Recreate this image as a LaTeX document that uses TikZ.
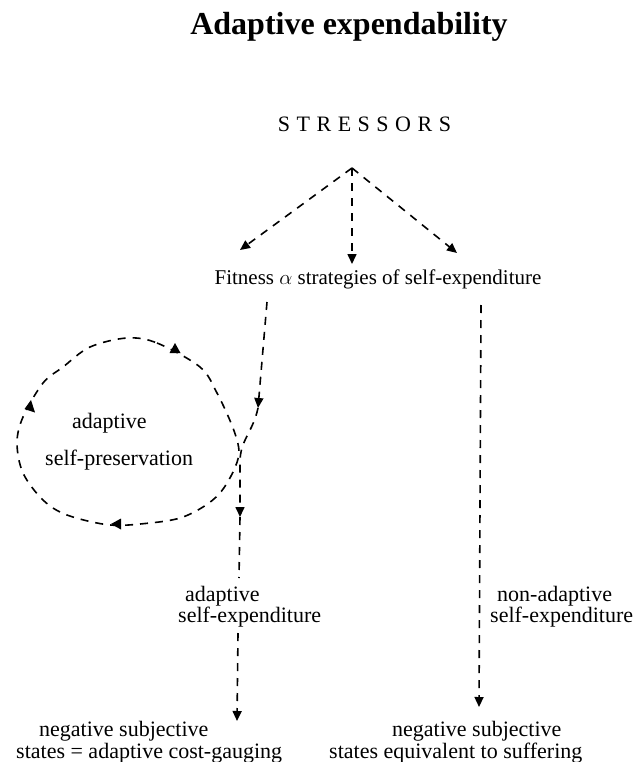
\documentclass[tikz,border=0pt]{standalone}
\usepackage{fontspec}
\setmainfont{Liberation Serif}
\usetikzlibrary{arrows.meta}
\begin{document}
\begin{tikzpicture}[x=1pt,y=-1pt,
  txt/.style={inner sep=0pt,font=\fontsize{22}{21}\selectfont},
  dline/.style={line width=1.6pt,dash pattern=on 8pt off 7pt},
  darrow/.style={dline,-{Triangle[length=10pt,width=9pt]}},
  tri/.style={fill=black}]
\useasboundingbox (0,0) rectangle (639,762);
% texts
\node[inner sep=0pt,anchor=base,font=\fontsize{32}{36}\selectfont\bfseries] (title) at (349,35) {Adaptive expendability};
\node[txt,anchor=base] (stress) at (364.5,132) {S\kern6.5pt T\kern6.5pt R\kern6.5pt E\kern6.5pt S\kern6.5pt S\kern6.5pt O\kern6.5pt R\kern6.5pt S};
\node[inner sep=0pt,anchor=base,font=\fontsize{21}{21}\selectfont] (fit) at (378,284) {Fitness $\alpha$ strategies of self-expenditure};
\node[txt,anchor=base west] (loopA) at (72,428) {adaptive};
\node[txt,anchor=base west] (loopB) at (45,465) {self-preservation};
\node[txt,anchor=base west] (adA) at (185,601) {adaptive};
\node[txt,anchor=base west] (adB) at (178,622) {self-expenditure};
\node[txt,anchor=base west] (naA) at (497,601) {non-adaptive};
\node[txt,anchor=base west] (naB) at (490,622) {self-expenditure};
\node[txt,anchor=base west] (blA) at (39,736) {negative subjective};
\node[txt,anchor=base west] (blB) at (16,758) {states = adaptive cost-gauging};
\node[txt,anchor=base west] (brA) at (392,736) {negative subjective};
\node[txt,anchor=base west] (brB) at (329,758) {states equivalent to suffering};
% coordinates
\coordinate (split) at (352,168);
\coordinate (tipL) at (240,250);
\coordinate (tipM) at (352,264);
\coordinate (tipR) at (457,253);
\coordinate (f1) at (267,302);
\coordinate (f2) at (258,408);
\coordinate (f3) at (240,517);
\coordinate (f4) at (239,578);
\coordinate (f5) at (238,633);
\coordinate (f6) at (237,721);
\coordinate (r1) at (481,305);
\coordinate (r2) at (479,707);
% stressor arrows
\draw[darrow] (split) -- (tipL);
\draw[darrow] (split) -- (tipM);
\draw[darrow] (split) -- (tipR);
% left branch
\draw[darrow] (f1) -- (f2);
\draw[darrow] (f2) .. controls (253,432) and (240,440) .. (240,462) -- (f3);
\draw[dline] (f3) -- (f4);
\draw[darrow] (f5) -- (f6);
% right branch
\draw[darrow] (r1) -- (r2);
% loop
\draw[dline] plot[smooth cycle, tension=0.55] coordinates {
 (127,338) (157,343) (200,367) (217,393) (233,428) (239,452) (233,472)
 (220,493) (203,507) (180,518) (150,523) (110,525) (67,515) (43,500)
 (23,473) (17,443) (23,417) (43,383) (63,367) (90,347)};
\fill[tri] (175,343) -- (169.5,353) -- (180.5,353) -- cycle;
\fill[tri] (31,400) -- (24.5,409) -- (35,412.5) -- cycle;
\fill[tri] (111,524) -- (121,518.5) -- (121,529.5) -- cycle;
\end{tikzpicture}
\end{document}
